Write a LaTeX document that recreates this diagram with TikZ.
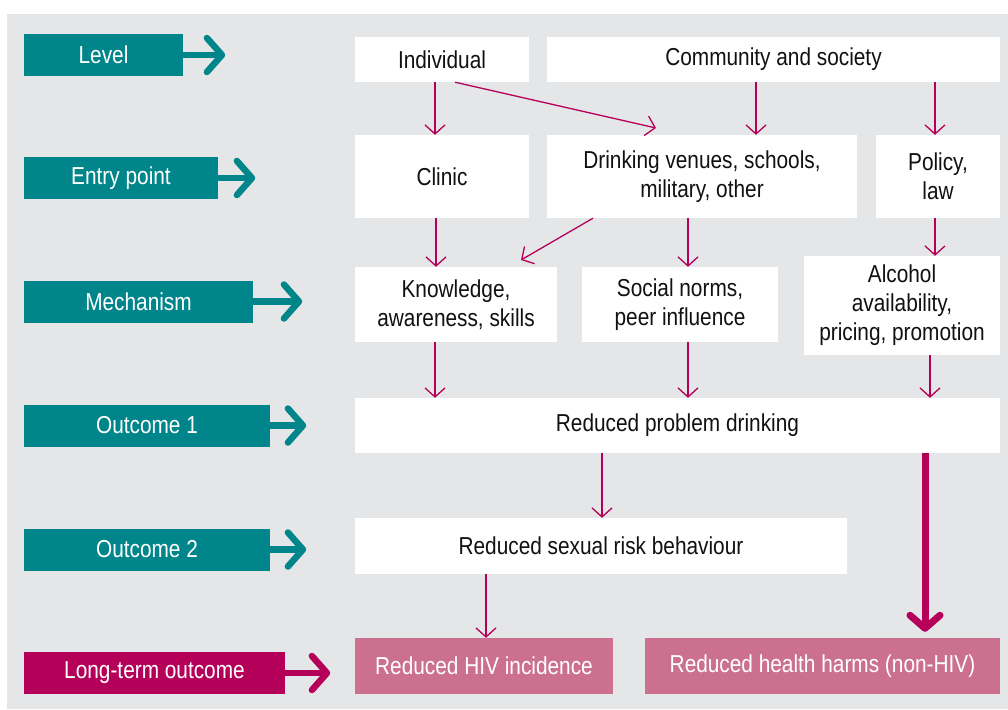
\documentclass[tikz,border=0pt]{standalone}
\usepackage{fontspec}
\setmainfont[FakeStretch=0.85]{Liberation Sans}
\usetikzlibrary{arrows.meta}

\definecolor{bggray}{HTML}{E5E6E8}
\definecolor{lvlteal}{HTML}{00858A}
\definecolor{outmag}{HTML}{B5005A}
\definecolor{outpink}{HTML}{CC7090}
\definecolor{inktext}{HTML}{111111}

\tikzset{
  txt/.style={font=\fontsize{24.5}{29}\selectfont, align=center, inner sep=0pt},
  box/.style={txt, fill=white, text=inktext},
  endbox/.style={txt, fill=outpink, text=white},
  lvlbox/.style={txt, fill=lvlteal, text=white, minimum height=42},
  side/.style={draw=lvlteal, line width=6.5pt,
    -{Straight Barb[length=15pt, width=34pt, line cap=round, line join=round]}},
  flow/.style={draw=outmag, line width=1.3pt, -{Straight Barb[length=9pt, width=20pt]}},
  bigflow/.style={draw=outmag, line width=7pt,
    -{Straight Barb[length=13pt, width=30pt, line cap=round, line join=round]}}
}

\begin{document}
\begin{tikzpicture}[x=1pt, y=-1pt]
        \useasboundingbox (0,0) rectangle (1008,709);
        \fill[bggray] (7,14) rectangle (1008,709);

        % left column
        \node[lvlbox, minimum width=159] (lvl) at (103.5,55) {Level};
        \node[lvlbox, minimum width=194] (entry) at (121,178) {Entry point};
        \node[lvlbox, minimum width=229] (mech) at (138.5,301.5) {Mechanism};
        \node[lvlbox, minimum width=246] (out1) at (147,425.5) {Outcome 1};
        \node[lvlbox, minimum width=246] (out2) at (147,549.5) {Outcome 2};
        \node[lvlbox, fill=outmag, minimum width=261] (lto) at (154.5,673) {Long-term outcome};

        \draw[side] (lvl.east) -- ++(42,0);
        \draw[side] (entry.east) -- ++(37,0);
        \draw[side] (mech.east) -- ++(49,0);
        \draw[side] (out1.east) -- ++(36,0);
        \draw[side] (out2.east) -- ++(36,0);
        \draw[side, draw=outmag] (lto.east) -- ++(45,0);

        % level
        \node[box, minimum width=174, minimum height=45] (indiv) at (442,59.5) {Individual};
        \node[box, minimum width=453, minimum height=45] (comm) at (773.5,59.5) {Community and society};

        % entry point
        \node[box, minimum width=174, minimum height=83] (clinic) at (442,176.5) {Clinic};
        \node[box, minimum width=310, minimum height=83] (venue) at (702,176.5) {Drinking venues, schools,\\military, other};
        \node[box, minimum width=124, minimum height=83] (policy) at (938,176.5) {Policy,\\law};

        % mechanism
        \node[box, minimum width=202, minimum height=75] (know) at (456,304.5) {Knowledge,\\awareness, skills};
        \node[box, minimum width=196, minimum height=75] (norms) at (680,304.5) {Social norms,\\peer influence};
        \node[box, minimum width=196, minimum height=99] (alco) at (902,305.5) {Alcohol\\availability,\\pricing, promotion};

        % outcomes
        \node[box, minimum width=645, minimum height=55] (drink) at (677.5,425.5) {Reduced problem drinking};
        \node[box, minimum width=492, minimum height=56] (sex) at (601,546) {Reduced sexual risk behaviour};
        \node[endbox, minimum width=258, minimum height=56] (hiv) at (484,666) {Reduced HIV incidence};
        \node[endbox, minimum width=355, minimum height=56] (harms) at (822.5,666) {Reduced health harms (non-HIV)};

        % connectors
        \draw[flow] (indiv.south -| 435,0) -- (clinic.north -| 435,0);
        \draw[flow] (indiv.south -| 455,0) -- (656,128);
        \draw[flow] (comm.south -| 756,0) -- (venue.north -| 756,0);
        \draw[flow] (comm.south -| 935,0) -- (policy.north -| 935,0);
        \draw[flow] (clinic.south -| 436,0) -- (know.north -| 436,0);
        \draw[flow] (venue.south -| 593,0) -- (521,260);
        \draw[flow] (venue.south -| 688,0) -- (norms.north -| 688,0);
        \draw[flow] (policy.south -| 935,0) -- (alco.north -| 935,0);
        \draw[flow] (know.south -| 435,0) -- (drink.north -| 435,0);
        \draw[flow] (norms.south -| 688,0) -- (drink.north -| 688,0);
        \draw[flow] (alco.south -| 930,0) -- (drink.north -| 930,0);
        \draw[flow] (drink.south -| 602,0) -- (sex.north -| 602,0);
        \draw[flow] (sex.south -| 486,0) -- (hiv.north -| 486,0);
        \draw[bigflow] (drink.south -| 925,0) -- ([yshift=6pt]harms.north -| 925,0);
\end{tikzpicture}
\end{document}
